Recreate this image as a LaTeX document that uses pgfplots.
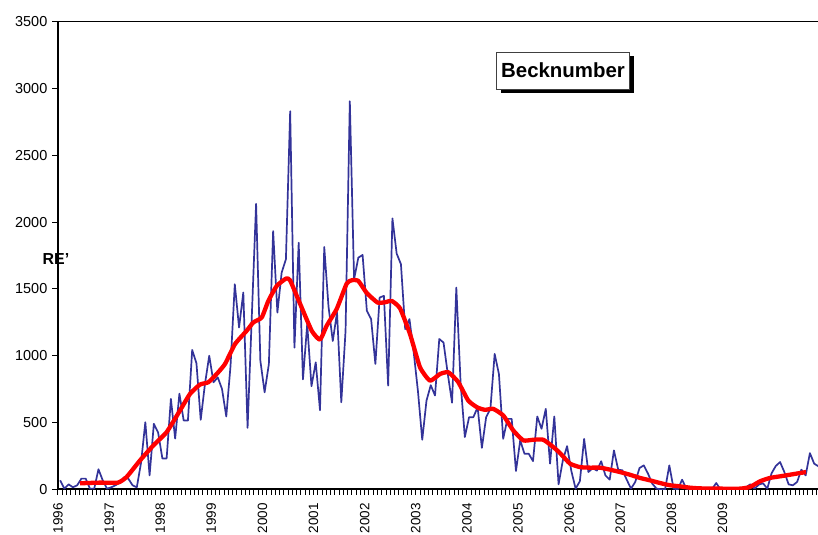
\documentclass[border=0pt]{standalone}
\usepackage{fontspec}
\setmainfont{Liberation Sans}
\usepackage{pgfplots}
\usepackage{pgfplotstable}
\pgfplotsset{compat=1.18}
\usetikzlibrary{shadows}
\definecolor{navyline}{RGB}{51,51,153}
\pgfplotstableread{
y
67
5
37
15
30
80
80
5
5
150
67
5
15
30
50
90
80
30
15
200
502
104
490
425
231
231
677
380
716
515
515
1043
943
520
789
1000
801
838
751
545
925
1535
1211
1473
460
1300
2137
963
726
938
1933
1323
1622
1722
2830
1060
1846
823
1236
772
950
592
1813
1367
1110
1323
652
1187
2905
1572
1734
1754
1336
1274
938
1435
1448
776
2028
1764
1685
1199
1274
1025
732
371
664
779
702
1125
1098
863
648
1510
800
391
540
540
614
310
540
602
1013
863
378
527
527
137
366
266
266
211
545
453
602
192
545
37
216
323
137
5
60
378
129
158
140
210
104
72
291
147
142
72
5
55
159
179
117
42
5
0
0
179
5
0
72
5
0
0
0
0
0
0
47
0
0
0
0
0
0
15
37
5
35
45
5
120
175
204
129
37
30
55
147
104
271
192
172
}\bluedata
\begin{document}
\begin{tikzpicture}
\begin{axis}[
  name=ax,
  width=760bp, height=467.6bp, scale only axis,
  xmin=0, xmax=178.4, ymin=0, ymax=3500,
  axis x line*=bottom, axis y line*=left,
  axis line style={line width=2bp, black},
  xtick={0,12,24,36,48,60,72,84,96,108,120,132,144,156},
  xticklabels={1996,1997,1998,1999,2000,2001,2002,2003,2004,2005,2006,2007,2008,2009},
  minor xtick={0,1,...,178},
  ytick={0,500,1000,1500,2000,2500,3000,3500},
  tick align=outside,
  major tick length=5.5bp, minor tick length=5.5bp,
  tick style={black, line width=1bp},
  xticklabel style={rotate=90, anchor=east, font=\fontsize{13.5}{16}\selectfont, inner xsep=9bp, inner ysep=1bp, xshift=0.5bp},
  yticklabel style={font=\fontsize{14.5}{16}\selectfont, inner sep=5bp},
  /pgf/number format/assume math mode=true,
  /pgf/number format/set thousands separator={},
  clip mode=individual,
]
\addplot[navyline, line width=1.7bp, line join=round] table[x expr=\coordindex+0.5, y=y] {\bluedata};
\addplot[red, line width=4.3bp, line join=round, smooth, tension=0.3] coordinates {
(5.16,45) (9.86,50) (14.08,50) (16.1,92) (19.25,216) (22.37,328) (25.5,428)
(28.64,590) (30.99,714) (33.33,784) (35.28,801) (37.25,863) (39.2,938)
(41.55,1087) (44.3,1187) (45.85,1249) (47.82,1286) (49.37,1410) (51.34,1522)
(53.52,1577) (54.46,1565) (56.81,1390) (59.55,1187) (61.5,1120) (63.07,1224)
(65.42,1350) (67.77,1540) (69.0,1565) (70.49,1560) (72.46,1470) (75.0,1398)
(76.76,1400) (78.33,1410) (80.28,1355) (82.63,1162) (84.98,913) (87.32,813)
(89.67,863) (91.62,876) (93.9,805) (96.31,664) (98.47,612) (100.23,595)
(102.18,602) (104.53,552) (106.88,440) (109.23,366) (111.57,371) (113.92,371)
(116.27,316) (117.84,271) (120.19,192) (122.54,166) (124.88,162) (127.23,162)
(129.58,147) (131.92,129) (134.27,109) (136.62,85) (138.97,67) (141.31,47)
(143.66,30) (146.01,22) (148.36,12) (150.7,7) (155.4,5) (160.1,5) (162.4,17)
(164.8,60) (167.1,85) (169.5,97) (171.8,109) (174.2,122) (175.6,129)
};
\draw[line width=0.8bp, black] (rel axis cs:0,1) -- (rel axis cs:1,1);
\node[font=\bfseries\fontsize{16}{18}\selectfont, xshift=-2bp] at (rel axis cs:0,0.4915) {RE'};
\node[draw=black!75, line width=0.8bp, fill=white, minimum width=133bp, minimum height=36.6bp, inner sep=0pt,
  font=\bfseries\fontsize{20.5}{24}\selectfont,
  drop shadow={shadow xshift=4bp, shadow yshift=-4bp, fill=black, opacity=1}]
  at (rel axis cs:0.6645,0.8954) {Becknumber};
\coordinate (sw) at (rel axis cs:0,0);
\coordinate (ne) at (rel axis cs:1,1);
\end{axis}
\pgfresetboundingbox
\path[use as bounding box] ([shift={(-58bp,-45.7bp)}]sw) rectangle ([shift={(0bp,21.7bp)}]ne);
\end{tikzpicture}
\end{document}
